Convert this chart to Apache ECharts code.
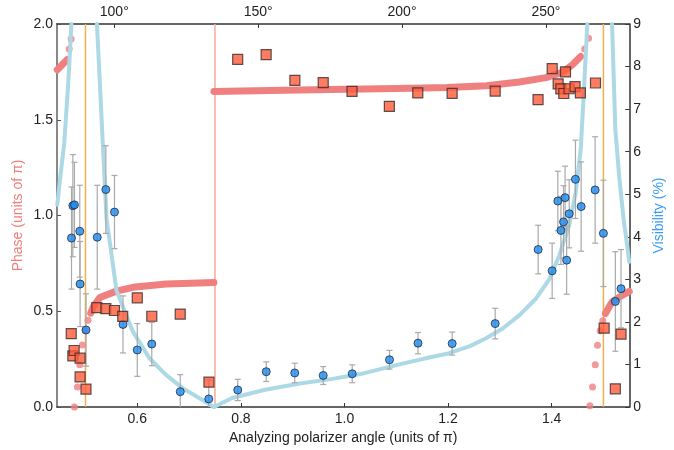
<!DOCTYPE html>
<html>
<head>
<meta charset="utf-8">
<script src="https://cdn.jsdelivr.net/npm/echarts@6/dist/echarts.min.js"></script>
<style>html,body{margin:0;padding:0;background:#fff}#c{width:674px;height:450px}</style>
</head>
<body>
<div id="c"></div>
<script>
// ---- tick labels ----
const xTicks = [0.6, 0.8, 1.0, 1.2, 1.4];
const degTicks = [100, 150, 200, 250];
const guideX = [0.5, 0.75, 1.5];

// ---- measured phase (units of pi): [angle, phase] ----
const phaseData = [
  [0.4725,0.383],[0.4756,0.267],[0.4781,0.295],[0.4896,0.255],[0.4896,0.157],[0.501,0.0935],
  [0.522,0.519],[0.5393,0.514],[0.556,0.504],[0.5719,0.473],[0.6,0.570],[0.628,0.474],
  [0.6829,0.485],[0.7384,0.130],[0.7939,1.815],[0.8488,1.840],[0.9043,1.706],[0.959,1.694],
  [1.0146,1.648],[1.0867,1.570],[1.1416,1.640],[1.2079,1.638],[1.291,1.650],[1.3738,1.605],
  [1.4011,1.767],[1.4126,1.687],[1.4178,1.661],[1.4235,1.637],[1.4268,1.750],[1.4337,1.662],
  [1.4452,1.673],[1.4555,1.640],[1.4847,1.692],[1.5014,0.412],[1.523,0.095],[1.534,0.381]
];

// ---- measured visibility (%): [angle, visibility, error] ----
const visData = [
  [0.473,3.97,1.2],[0.4756,4.73,1.2],[0.4787,4.75,1.0],[0.4896,2.89,1.0],[0.489,4.13,1.08],
  [0.501,1.81,0.85],[0.5227,3.99,1.22],[0.5393,5.11,1.03],[0.556,4.58,0.86],[0.5724,1.94,0.67],
  [0.600,1.34,0.62],[0.628,1.48,0.51],[0.683,0.36,0.40],[0.738,0.19,0.45],[0.794,0.40,0.25],
  [0.849,0.83,0.23],[0.904,0.80,0.23],[0.959,0.74,0.21],[1.015,0.78,0.21],[1.087,1.11,0.22],
  [1.142,1.50,0.25],[1.208,1.49,0.27],[1.291,1.96,0.36],[1.374,3.70,0.57],[1.401,3.20,0.65],
  [1.412,4.84,0.70],[1.418,4.15,0.80],[1.423,4.35,0.85],[1.426,4.92,0.74],[1.429,3.45,0.80],
  [1.434,4.54,0.80],[1.446,5.35,0.92],[1.457,4.71,1.05],[1.484,5.10,1.25],[1.500,4.08,1.25],
  [1.523,2.48,1.17],[1.534,2.78,0.92]
];

// ---- theory: phase curve pieces ----
const phaseCurveA = [[0.4455,1.761],[0.455,1.787],[0.4641,1.813]];
const phaseDotsA  = [[0.4685,1.870],[0.4723,1.922]];
const phaseDotsB  = [[0.4787,0.0],[0.4844,0.105],[0.489,0.22],[0.494,0.324],[0.4997,0.40],[0.5049,0.453]];
const phaseCurveB = [[0.510,0.490],[0.515,0.523],[0.5278,0.572],[0.5598,0.605],[0.5916,0.625],[0.6555,0.642],[0.7192,0.648],[0.748,0.650]];
const phaseCurveC = [[0.748,1.648],[0.9106,1.655],[1.102,1.663],[1.1977,1.668],[1.2743,1.678],[1.3374,1.697],[1.3891,1.72],[1.421,1.748],[1.4402,1.787],[1.4561,1.83]];
const phaseDotsC  = [[1.4637,1.870],[1.4714,1.925]];
const phaseDotsD  = [[1.4739,0.007],[1.479,0.105],[1.4842,0.22],[1.4886,0.322],[1.4938,0.398],[1.4988,0.45]];
const phaseCurveD = [[1.5039,0.488],[1.5167,0.549],[1.5359,0.583],[1.5499,0.604]];

// ---- theory: visibility curve pieces ----
const visCurveA = [[0.4455,4.75],[0.4513,5.4],[0.459,6.2],[0.4666,7.6],[0.4729,9.0]];
const visCurveB = [[0.5221,9.0],[0.5278,7.6],[0.533,6.29],[0.5407,4.42],[0.5489,3.7],[0.5598,2.74],[0.5916,1.77],[0.6235,1.145],[0.6555,0.755],[0.6873,0.444],[0.7192,0.21],[0.748,0.0]];
const visCurveC = [[0.748,0.0],[0.783,0.21],[0.8469,0.405],[0.9106,0.545],[0.9744,0.655],[1.0383,0.795],[1.102,0.99],[1.1657,1.17],[1.1977,1.25],[1.2423,1.43],[1.2743,1.62],[1.3062,1.85],[1.338,2.16],[1.37,2.55],[1.3954,3.0],[1.4145,3.55],[1.4337,4.26],[1.4465,5.04],[1.4561,6.05],[1.4618,7.3],[1.4689,9.0]];
const visCurveD = [[1.5167,9.0],[1.523,6.52],[1.5306,5.4],[1.5389,4.42],[1.5455,3.83],[1.5499,3.41]];

const FONT = 'Liberation Sans, Arial, sans-serif';
const PHASE_C = '#f08080';
const VIS_C = '#add8e6';

const chart = echarts.init(document.getElementById('c'), null, {renderer: 'canvas'});

function phaseLine(d) {
  return {type:'line', data:d, xAxisIndex:0, yAxisIndex:0, showSymbol:false, silent:true,
    lineStyle:{color:PHASE_C, width:7, cap:'round', join:'round'}, z:3};
}
function phaseDots(d) {
  return {type:'scatter', data:d, xAxisIndex:0, yAxisIndex:0, symbol:'circle', symbolSize:7,
    itemStyle:{color:PHASE_C}, silent:true, z:3};
}
function visLine(d) {
  return {type:'line', data:d, xAxisIndex:0, yAxisIndex:1, showSymbol:false, silent:true,
    lineStyle:{color:VIS_C, width:4, cap:'round'}, z:4};
}
const guideColors = ['#eeb150', '#f8ab98', '#eeb150'];
const guideSeries = guideX.map((g, i) => ({
  type:'line', data:[[g,0],[g,2]], xAxisIndex:0, yAxisIndex:0, showSymbol:false, silent:true,
  lineStyle:{color:guideColors[i], width:1.5}, z:1
}));

const option = {
  animation:false,
  textStyle:{fontFamily:FONT},
  grid:{left:57, right:40, top:24, bottom:41},
  xAxis:[
    {type:'value', position:'bottom', min:0.445, max:1.55,
     name:'Analyzing polarizer angle (units of π)', nameLocation:'middle', nameGap:24,
     nameTextStyle:{fontSize:14, color:'#222', fontFamily:FONT},
     axisLine:{show:true, onZero:false, lineStyle:{color:'#333', width:1.5}},
     axisTick:{show:true, inside:true, length:4, customValues:xTicks, lineStyle:{color:'#333'}},
     axisLabel:{customValues:xTicks, fontSize:14, color:'#222', margin:5, fontFamily:FONT,
       formatter:v=>v.toFixed(1)},
     splitLine:{show:false}},
    {type:'value', position:'top', min:0.445*180, max:1.55*180,
     axisLine:{show:true, onZero:false, lineStyle:{color:'#333', width:1.5}},
     axisTick:{show:true, inside:true, length:4, customValues:degTicks, lineStyle:{color:'#333'}},
     axisLabel:{customValues:degTicks, fontSize:14, color:'#222', margin:5, fontFamily:FONT,
       formatter:v=>v+'°'},
     splitLine:{show:false}}
  ],
  yAxis:[
    {type:'value', position:'left', min:0, max:2, interval:0.5,
     name:'Phase (units of π)', nameLocation:'middle', nameGap:32, nameMoveOverlap:false,
     nameTextStyle:{fontSize:14, color:'#f07e7a', fontFamily:FONT},
     axisLine:{show:true, onZero:false, lineStyle:{color:'#888', width:2}},
     axisTick:{show:true, inside:true, length:4, lineStyle:{color:'#555'}},
     axisLabel:{fontSize:14, color:'#222', margin:4, fontFamily:FONT, formatter:v=>v.toFixed(1)},
     splitLine:{show:false}},
    {type:'value', position:'right', min:0, max:9, interval:1,
     name:'Visibility (%)', nameLocation:'middle', nameGap:16,
     nameTextStyle:{fontSize:14, color:'#3d9cf5', fontFamily:FONT},
     axisLine:{show:true, onZero:false, lineStyle:{color:'#333', width:1.5}},
     axisTick:{show:true, inside:true, length:4, lineStyle:{color:'#333'}},
     axisLabel:{fontSize:14, color:'#222', margin:4, fontFamily:FONT},
     splitLine:{show:false}}
  ],
  series:[
    ...guideSeries,
    phaseLine(phaseCurveA), phaseDots(phaseDotsA),
    phaseDots(phaseDotsB), phaseLine(phaseCurveB),
    phaseLine(phaseCurveC), phaseDots(phaseDotsC),
    phaseDots(phaseDotsD), phaseLine(phaseCurveD),
    visLine(visCurveA), visLine(visCurveB), visLine(visCurveC), visLine(visCurveD),
    {type:'custom', xAxisIndex:0, yAxisIndex:1, data:visData, z:5, silent:true, clip:true,
     renderItem:function(params, api){
       const x = api.value(0), y = api.value(1), e = api.value(2);
       const t = api.coord([x, y+e]), b = api.coord([x, y-e]);
       const hw = 3;
       const st = {stroke:'#a9a9a9', lineWidth:1.2};
       return {type:'group', children:[
         {type:'line', shape:{x1:t[0], y1:t[1], x2:b[0], y2:b[1]}, style:st},
         {type:'line', shape:{x1:t[0]-hw, y1:t[1], x2:t[0]+hw, y2:t[1]}, style:st},
         {type:'line', shape:{x1:b[0]-hw, y1:b[1], x2:b[0]+hw, y2:b[1]}, style:st}
       ]};
     }},
    {type:'scatter', xAxisIndex:0, yAxisIndex:1, data:visData.map(d=>[d[0],d[1]]),
     symbol:'circle', symbolSize:8, z:6,
     itemStyle:{color:'#1e8bf0', borderColor:'#1b2a3d', borderWidth:1}},
    {type:'scatter', xAxisIndex:0, yAxisIndex:0, data:phaseData,
     symbol:'rect', symbolSize:10, z:7,
     itemStyle:{color:'#ff5b3a', borderColor:'#3a2a2a', borderWidth:1.2}}
  ]
};
chart.setOption(option);
</script>
</body>
</html>
